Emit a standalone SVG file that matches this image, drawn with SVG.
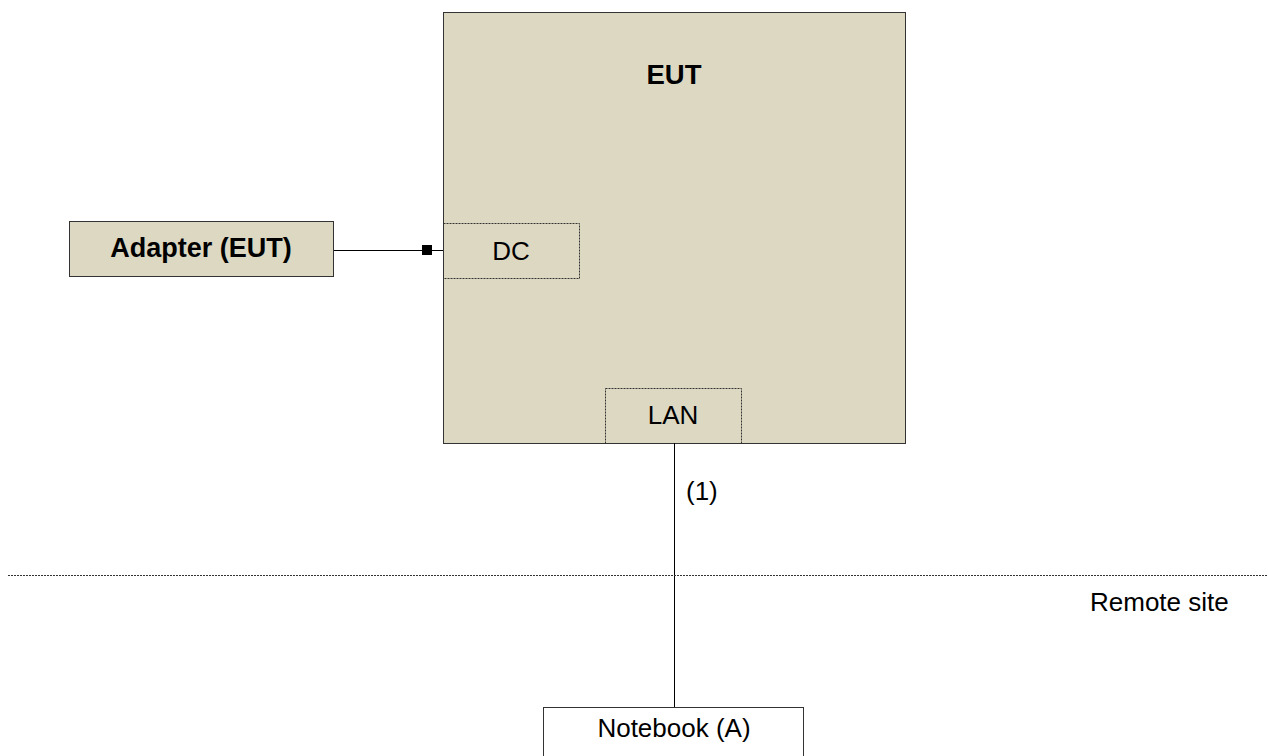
<svg xmlns="http://www.w3.org/2000/svg" width="1268" height="756" viewBox="0 0 1268 756">
<style>
.box{fill:#DDD8C2;stroke:#333;stroke-width:1}
.port{fill:none;stroke:#333;stroke-width:1;stroke-dasharray:2,1}
.wbox{fill:#fff;stroke:#333;stroke-width:1}
.t{font-family:"Liberation Sans",Arial,sans-serif;font-size:26px;fill:#000}
.b{font-weight:bold}
.ln{stroke:#000;stroke-width:1;fill:none}
</style>
<rect width="1268" height="756" fill="#fff"/>
<g id="eut">
<rect class="box" x="443.5" y="12.5" width="462" height="431"/>
<text class="t b" x="674" y="84" text-anchor="middle" style="font-size:27.5px">EUT</text>
</g>
<g id="dc">
<rect class="port" x="443.5" y="223.5" width="136" height="55"/>
<text class="t" x="511" y="260" text-anchor="middle">DC</text>
</g>
<g id="lan">
<rect class="port" x="605.5" y="388.5" width="136" height="55"/>
<text class="t" x="673" y="424" text-anchor="middle">LAN</text>
</g>
<g id="adapter">
<rect class="box" x="69.5" y="221.5" width="264" height="55"/>
<text class="t b" x="201" y="257" text-anchor="middle" style="font-size:27px">Adapter (EUT)</text>
</g>
<g id="notebook">
<rect class="wbox" x="543.5" y="707.5" width="260" height="60"/>
<text class="t" x="674" y="737" text-anchor="middle">Notebook (A)</text>
</g>
<g id="connectors">
<line class="ln" x1="334" y1="250.5" x2="443" y2="250.5"/>
<rect x="422" y="245" width="10" height="10" fill="#000"/>
<line class="ln" x1="674.5" y1="443" x2="674.5" y2="707"/>
<text class="t" x="686" y="500">(1)</text>
<line x1="8" y1="575.5" x2="1268" y2="575.5" stroke="#333" stroke-width="1" stroke-dasharray="2,1"/>
</g>
<g id="remote">
<text class="t" x="1090" y="611">Remote site</text>
</g>
</svg>
